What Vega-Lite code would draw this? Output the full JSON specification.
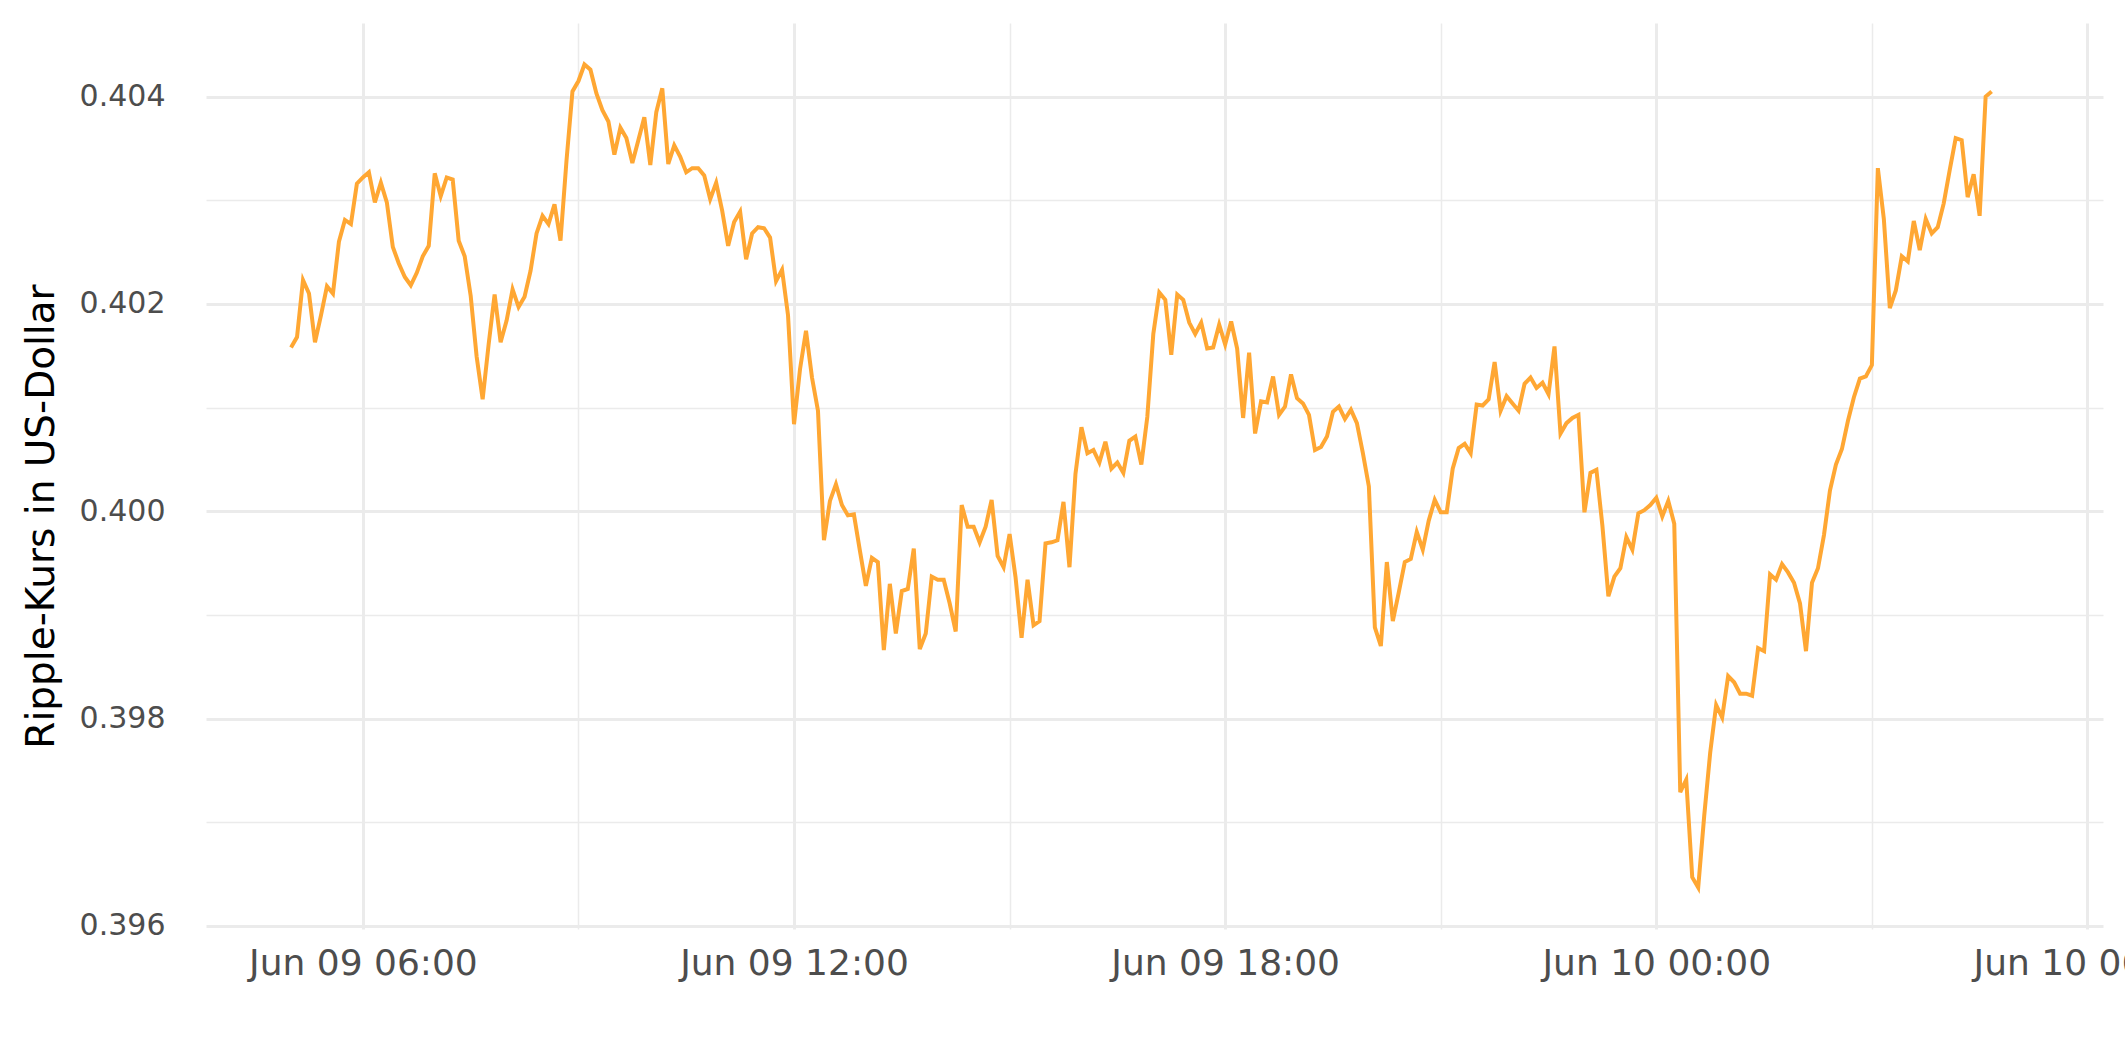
{
"$schema": "https://vega.github.io/schema/vega-lite/v6.json",
"width": 1897, "height": 906,
"autosize": {"type": "none"},
"padding": {"left": 206, "top": 23, "right": 22, "bottom": 133},
"background": "white",
"config": {"view": {"stroke": null}, "font": "DejaVu Sans"},
"data": {"values": [
{"t":"2024-06-09T05:00","v":0.40158},{"t":"2024-06-09T05:05","v":0.40168},{"t":"2024-06-09T05:10","v":0.40223},{"t":"2024-06-09T05:15","v":0.40210},{"t":"2024-06-09T05:20","v":0.40163},{"t":"2024-06-09T05:25","v":0.40189},{"t":"2024-06-09T05:30","v":0.40217},{"t":"2024-06-09T05:35","v":0.40210},{"t":"2024-06-09T05:40","v":0.40260},{"t":"2024-06-09T05:45","v":0.40281},{"t":"2024-06-09T05:50","v":0.40277},{"t":"2024-06-09T05:55","v":0.40316},
{"t":"2024-06-09T06:00","v":0.40322},{"t":"2024-06-09T06:05","v":0.40327},{"t":"2024-06-09T06:10","v":0.40298},{"t":"2024-06-09T06:15","v":0.40317},{"t":"2024-06-09T06:20","v":0.40298},{"t":"2024-06-09T06:25","v":0.40255},{"t":"2024-06-09T06:30","v":0.40239},{"t":"2024-06-09T06:35","v":0.40226},{"t":"2024-06-09T06:40","v":0.40218},{"t":"2024-06-09T06:45","v":0.40230},{"t":"2024-06-09T06:50","v":0.40246},{"t":"2024-06-09T06:55","v":0.40256},
{"t":"2024-06-09T07:00","v":0.40326},{"t":"2024-06-09T07:05","v":0.40304},{"t":"2024-06-09T07:10","v":0.40322},{"t":"2024-06-09T07:15","v":0.40320},{"t":"2024-06-09T07:20","v":0.40261},{"t":"2024-06-09T07:25","v":0.40246},{"t":"2024-06-09T07:30","v":0.40208},{"t":"2024-06-09T07:35","v":0.40149},{"t":"2024-06-09T07:40","v":0.40108},{"t":"2024-06-09T07:45","v":0.40161},{"t":"2024-06-09T07:50","v":0.40209},{"t":"2024-06-09T07:55","v":0.40163},
{"t":"2024-06-09T08:00","v":0.40184},{"t":"2024-06-09T08:05","v":0.40214},{"t":"2024-06-09T08:10","v":0.40197},{"t":"2024-06-09T08:15","v":0.40207},{"t":"2024-06-09T08:20","v":0.40232},{"t":"2024-06-09T08:25","v":0.40268},{"t":"2024-06-09T08:30","v":0.40285},{"t":"2024-06-09T08:35","v":0.40277},{"t":"2024-06-09T08:40","v":0.40296},{"t":"2024-06-09T08:45","v":0.40261},{"t":"2024-06-09T08:50","v":0.40338},{"t":"2024-06-09T08:55","v":0.40405},
{"t":"2024-06-09T09:00","v":0.40415},{"t":"2024-06-09T09:05","v":0.40431},{"t":"2024-06-09T09:10","v":0.40426},{"t":"2024-06-09T09:15","v":0.40403},{"t":"2024-06-09T09:20","v":0.40387},{"t":"2024-06-09T09:25","v":0.40376},{"t":"2024-06-09T09:30","v":0.40344},{"t":"2024-06-09T09:35","v":0.40370},{"t":"2024-06-09T09:40","v":0.40360},{"t":"2024-06-09T09:45","v":0.40336},{"t":"2024-06-09T09:50","v":0.40358},{"t":"2024-06-09T09:55","v":0.40380},
{"t":"2024-06-09T10:00","v":0.40334},{"t":"2024-06-09T10:05","v":0.40385},{"t":"2024-06-09T10:10","v":0.40408},{"t":"2024-06-09T10:15","v":0.40335},{"t":"2024-06-09T10:20","v":0.40353},{"t":"2024-06-09T10:25","v":0.40342},{"t":"2024-06-09T10:30","v":0.40327},{"t":"2024-06-09T10:35","v":0.40331},{"t":"2024-06-09T10:40","v":0.40331},{"t":"2024-06-09T10:45","v":0.40324},{"t":"2024-06-09T10:50","v":0.40301},{"t":"2024-06-09T10:55","v":0.40317},
{"t":"2024-06-09T11:00","v":0.40290},{"t":"2024-06-09T11:05","v":0.40256},{"t":"2024-06-09T11:10","v":0.40279},{"t":"2024-06-09T11:15","v":0.40289},{"t":"2024-06-09T11:20","v":0.40243},{"t":"2024-06-09T11:25","v":0.40268},{"t":"2024-06-09T11:30","v":0.40274},{"t":"2024-06-09T11:35","v":0.40273},{"t":"2024-06-09T11:40","v":0.40264},{"t":"2024-06-09T11:45","v":0.40222},{"t":"2024-06-09T11:50","v":0.40233},{"t":"2024-06-09T11:55","v":0.40189},
{"t":"2024-06-09T12:00","v":0.40084},{"t":"2024-06-09T12:05","v":0.40137},{"t":"2024-06-09T12:10","v":0.40174},{"t":"2024-06-09T12:15","v":0.40129},{"t":"2024-06-09T12:20","v":0.40097},{"t":"2024-06-09T12:25","v":0.39972},{"t":"2024-06-09T12:30","v":0.40010},{"t":"2024-06-09T12:35","v":0.40026},{"t":"2024-06-09T12:40","v":0.40006},{"t":"2024-06-09T12:45","v":0.39996},{"t":"2024-06-09T12:50","v":0.39997},{"t":"2024-06-09T12:55","v":0.39962},
{"t":"2024-06-09T13:00","v":0.39928},{"t":"2024-06-09T13:05","v":0.39955},{"t":"2024-06-09T13:10","v":0.39951},{"t":"2024-06-09T13:15","v":0.39866},{"t":"2024-06-09T13:20","v":0.39930},{"t":"2024-06-09T13:25","v":0.39882},{"t":"2024-06-09T13:30","v":0.39923},{"t":"2024-06-09T13:35","v":0.39925},{"t":"2024-06-09T13:40","v":0.39964},{"t":"2024-06-09T13:45","v":0.39867},{"t":"2024-06-09T13:50","v":0.39882},{"t":"2024-06-09T13:55","v":0.39937},
{"t":"2024-06-09T14:00","v":0.39934},{"t":"2024-06-09T14:05","v":0.39934},{"t":"2024-06-09T14:10","v":0.39911},{"t":"2024-06-09T14:15","v":0.39884},{"t":"2024-06-09T14:20","v":0.40006},{"t":"2024-06-09T14:25","v":0.39985},{"t":"2024-06-09T14:30","v":0.39985},{"t":"2024-06-09T14:35","v":0.39970},{"t":"2024-06-09T14:40","v":0.39985},{"t":"2024-06-09T14:45","v":0.40011},{"t":"2024-06-09T14:50","v":0.39957},{"t":"2024-06-09T14:55","v":0.39946},
{"t":"2024-06-09T15:00","v":0.39978},{"t":"2024-06-09T15:05","v":0.39936},{"t":"2024-06-09T15:10","v":0.39878},{"t":"2024-06-09T15:15","v":0.39934},{"t":"2024-06-09T15:20","v":0.39890},{"t":"2024-06-09T15:25","v":0.39894},{"t":"2024-06-09T15:30","v":0.39969},{"t":"2024-06-09T15:35","v":0.39970},{"t":"2024-06-09T15:40","v":0.39972},{"t":"2024-06-09T15:45","v":0.40009},{"t":"2024-06-09T15:50","v":0.39946},{"t":"2024-06-09T15:55","v":0.40036},
{"t":"2024-06-09T16:00","v":0.40081},{"t":"2024-06-09T16:05","v":0.40056},{"t":"2024-06-09T16:10","v":0.40059},{"t":"2024-06-09T16:15","v":0.40047},{"t":"2024-06-09T16:20","v":0.40067},{"t":"2024-06-09T16:25","v":0.40041},{"t":"2024-06-09T16:30","v":0.40047},{"t":"2024-06-09T16:35","v":0.40037},{"t":"2024-06-09T16:40","v":0.40068},{"t":"2024-06-09T16:45","v":0.40072},{"t":"2024-06-09T16:50","v":0.40045},{"t":"2024-06-09T16:55","v":0.40091},
{"t":"2024-06-09T17:00","v":0.40171},{"t":"2024-06-09T17:05","v":0.40211},{"t":"2024-06-09T17:10","v":0.40204},{"t":"2024-06-09T17:15","v":0.40151},{"t":"2024-06-09T17:20","v":0.40209},{"t":"2024-06-09T17:25","v":0.40204},{"t":"2024-06-09T17:30","v":0.40182},{"t":"2024-06-09T17:35","v":0.40171},{"t":"2024-06-09T17:40","v":0.40182},{"t":"2024-06-09T17:45","v":0.40157},{"t":"2024-06-09T17:50","v":0.40158},{"t":"2024-06-09T17:55","v":0.40180},
{"t":"2024-06-09T18:00","v":0.40161},{"t":"2024-06-09T18:05","v":0.40183},{"t":"2024-06-09T18:10","v":0.40157},{"t":"2024-06-09T18:15","v":0.40090},{"t":"2024-06-09T18:20","v":0.40153},{"t":"2024-06-09T18:25","v":0.40075},{"t":"2024-06-09T18:30","v":0.40106},{"t":"2024-06-09T18:35","v":0.40105},{"t":"2024-06-09T18:40","v":0.40130},{"t":"2024-06-09T18:45","v":0.40093},{"t":"2024-06-09T18:50","v":0.40101},{"t":"2024-06-09T18:55","v":0.40132},
{"t":"2024-06-09T19:00","v":0.40109},{"t":"2024-06-09T19:05","v":0.40104},{"t":"2024-06-09T19:10","v":0.40093},{"t":"2024-06-09T19:15","v":0.40059},{"t":"2024-06-09T19:20","v":0.40062},{"t":"2024-06-09T19:25","v":0.40072},{"t":"2024-06-09T19:30","v":0.40096},{"t":"2024-06-09T19:35","v":0.40101},{"t":"2024-06-09T19:40","v":0.40089},{"t":"2024-06-09T19:45","v":0.40098},{"t":"2024-06-09T19:50","v":0.40085},{"t":"2024-06-09T19:55","v":0.40056},
{"t":"2024-06-09T20:00","v":0.40024},{"t":"2024-06-09T20:05","v":0.39888},{"t":"2024-06-09T20:10","v":0.39870},{"t":"2024-06-09T20:15","v":0.39951},{"t":"2024-06-09T20:20","v":0.39894},{"t":"2024-06-09T20:25","v":0.39922},{"t":"2024-06-09T20:30","v":0.39951},{"t":"2024-06-09T20:35","v":0.39954},{"t":"2024-06-09T20:40","v":0.39980},{"t":"2024-06-09T20:45","v":0.39963},{"t":"2024-06-09T20:50","v":0.39991},{"t":"2024-06-09T20:55","v":0.40011},
{"t":"2024-06-09T21:00","v":0.39999},{"t":"2024-06-09T21:05","v":0.39999},{"t":"2024-06-09T21:10","v":0.40041},{"t":"2024-06-09T21:15","v":0.40061},{"t":"2024-06-09T21:20","v":0.40065},{"t":"2024-06-09T21:25","v":0.40056},{"t":"2024-06-09T21:30","v":0.40103},{"t":"2024-06-09T21:35","v":0.40102},{"t":"2024-06-09T21:40","v":0.40108},{"t":"2024-06-09T21:45","v":0.40144},{"t":"2024-06-09T21:50","v":0.40097},{"t":"2024-06-09T21:55","v":0.40111},
{"t":"2024-06-09T22:00","v":0.40104},{"t":"2024-06-09T22:05","v":0.40097},{"t":"2024-06-09T22:10","v":0.40123},{"t":"2024-06-09T22:15","v":0.40129},{"t":"2024-06-09T22:20","v":0.40119},{"t":"2024-06-09T22:25","v":0.40124},{"t":"2024-06-09T22:30","v":0.40113},{"t":"2024-06-09T22:35","v":0.40159},{"t":"2024-06-09T22:40","v":0.40075},{"t":"2024-06-09T22:45","v":0.40085},{"t":"2024-06-09T22:50","v":0.40090},{"t":"2024-06-09T22:55","v":0.40093},
{"t":"2024-06-09T23:00","v":0.39999},{"t":"2024-06-09T23:05","v":0.40037},{"t":"2024-06-09T23:10","v":0.40040},{"t":"2024-06-09T23:15","v":0.39986},{"t":"2024-06-09T23:20","v":0.39918},{"t":"2024-06-09T23:25","v":0.39937},{"t":"2024-06-09T23:30","v":0.39945},{"t":"2024-06-09T23:35","v":0.39975},{"t":"2024-06-09T23:40","v":0.39963},{"t":"2024-06-09T23:45","v":0.39998},{"t":"2024-06-09T23:50","v":0.40001},{"t":"2024-06-09T23:55","v":0.40006},
{"t":"2024-06-10T00:00","v":0.40013},{"t":"2024-06-10T00:05","v":0.39995},{"t":"2024-06-10T00:10","v":0.40010},{"t":"2024-06-10T00:15","v":0.39988},{"t":"2024-06-10T00:20","v":0.39729},{"t":"2024-06-10T00:25","v":0.39741},{"t":"2024-06-10T00:30","v":0.39647},{"t":"2024-06-10T00:35","v":0.39637},{"t":"2024-06-10T00:40","v":0.39706},{"t":"2024-06-10T00:45","v":0.39767},{"t":"2024-06-10T00:50","v":0.39813},{"t":"2024-06-10T00:55","v":0.39801},
{"t":"2024-06-10T01:00","v":0.39841},{"t":"2024-06-10T01:05","v":0.39835},{"t":"2024-06-10T01:10","v":0.39824},{"t":"2024-06-10T01:15","v":0.39824},{"t":"2024-06-10T01:20","v":0.39822},{"t":"2024-06-10T01:25","v":0.39868},{"t":"2024-06-10T01:30","v":0.39865},{"t":"2024-06-10T01:35","v":0.39939},{"t":"2024-06-10T01:40","v":0.39934},{"t":"2024-06-10T01:45","v":0.39949},{"t":"2024-06-10T01:50","v":0.39941},{"t":"2024-06-10T01:55","v":0.39931},
{"t":"2024-06-10T02:00","v":0.39911},{"t":"2024-06-10T02:05","v":0.39865},{"t":"2024-06-10T02:10","v":0.39931},{"t":"2024-06-10T02:15","v":0.39945},{"t":"2024-06-10T02:20","v":0.39977},{"t":"2024-06-10T02:25","v":0.40020},{"t":"2024-06-10T02:30","v":0.40045},{"t":"2024-06-10T02:35","v":0.40060},{"t":"2024-06-10T02:40","v":0.40087},{"t":"2024-06-10T02:45","v":0.40110},{"t":"2024-06-10T02:50","v":0.40128},{"t":"2024-06-10T02:55","v":0.40130},
{"t":"2024-06-10T03:00","v":0.40141},{"t":"2024-06-10T03:05","v":0.40331},{"t":"2024-06-10T03:10","v":0.40282},{"t":"2024-06-10T03:15","v":0.40196},{"t":"2024-06-10T03:20","v":0.40213},{"t":"2024-06-10T03:25","v":0.40246},{"t":"2024-06-10T03:30","v":0.40241},{"t":"2024-06-10T03:35","v":0.40280},{"t":"2024-06-10T03:40","v":0.40252},{"t":"2024-06-10T03:45","v":0.40282},{"t":"2024-06-10T03:50","v":0.40268},{"t":"2024-06-10T03:55","v":0.40274},
{"t":"2024-06-10T04:00","v":0.40297},{"t":"2024-06-10T04:05","v":0.40329},{"t":"2024-06-10T04:10","v":0.40360},{"t":"2024-06-10T04:15","v":0.40358},{"t":"2024-06-10T04:20","v":0.40303},{"t":"2024-06-10T04:25","v":0.40325},{"t":"2024-06-10T04:30","v":0.40285},{"t":"2024-06-10T04:35","v":0.40400},{"t":"2024-06-10T04:40","v":0.40405}
]},
"resolve": {"axis": {"x": "independent", "y": "independent"}},
"layer": [
{
"mark": {"type": "line", "color": "#FFA733", "strokeWidth": 4},
"encoding": {
  "x": {"field": "t", "type": "temporal",
    "scale": {"domain": [{"year": 2024, "month": 6, "date": 9, "hours": 3, "minutes": 49}, {"year": 2024, "month": 6, "date": 10, "hours": 6, "minutes": 13}], "nice": false},
    "axis": {"title": null, "orient": "bottom",
      "values": [{"year": 2024, "month": 6, "date": 9, "hours": 6}, {"year": 2024, "month": 6, "date": 9, "hours": 12}, {"year": 2024, "month": 6, "date": 9, "hours": 18}, {"year": 2024, "month": 6, "date": 10, "hours": 0}, {"year": 2024, "month": 6, "date": 10, "hours": 6}],
      "format": "%b %d %H:%M",
      "grid": true, "gridColor": "#EBEBEB", "gridWidth": 3,
      "domain": false, "ticks": false,
      "labelFont": "DejaVu Sans", "labelFontSize": 36, "labelColor": "#4D4D4D",
      "labelPadding": 17, "labelOverlap": false, "labelFlush": false, "labelLimit": 0}},
  "y": {"field": "v", "type": "quantitative",
    "scale": {"domain": [0.39597, 0.40471], "zero": false, "nice": false},
    "axis": {"title": "Ripple-Kurs in US-Dollar", "orient": "left",
      "values": [0.396, 0.398, 0.4, 0.402, 0.404],
      "format": ".3f",
      "grid": true, "gridColor": "#EBEBEB", "gridWidth": 3,
      "domain": false, "ticks": false,
      "labelFont": "DejaVu Sans", "labelFontSize": 30, "labelColor": "#4D4D4D", "labelPadding": 41,
      "titleFont": "DejaVu Sans", "titleFontSize": 39, "titleFontWeight": "normal", "titleColor": "#000000",
      "titleAngle": 270, "titleBaseline": "middle", "titleX": -165, "titleY": 493, "titleAnchor": "middle"}}
}
},
{
"mark": {"type": "line", "strokeOpacity": 0},
"encoding": {
  "x": {"field": "t", "type": "temporal",
    "axis": {"title": null, "orient": "bottom",
      "values": [{"year": 2024, "month": 6, "date": 9, "hours": 9}, {"year": 2024, "month": 6, "date": 9, "hours": 15}, {"year": 2024, "month": 6, "date": 9, "hours": 21}, {"year": 2024, "month": 6, "date": 10, "hours": 3}],
      "grid": true, "gridColor": "#EBEBEB", "gridWidth": 1.5,
      "domain": false, "ticks": false, "labels": false}},
  "y": {"field": "v", "type": "quantitative",
    "axis": {"title": null, "orient": "left",
      "values": [0.397, 0.399, 0.401, 0.403],
      "grid": true, "gridColor": "#EBEBEB", "gridWidth": 1.5,
      "domain": false, "ticks": false, "labels": false}}
}
}
]
}
